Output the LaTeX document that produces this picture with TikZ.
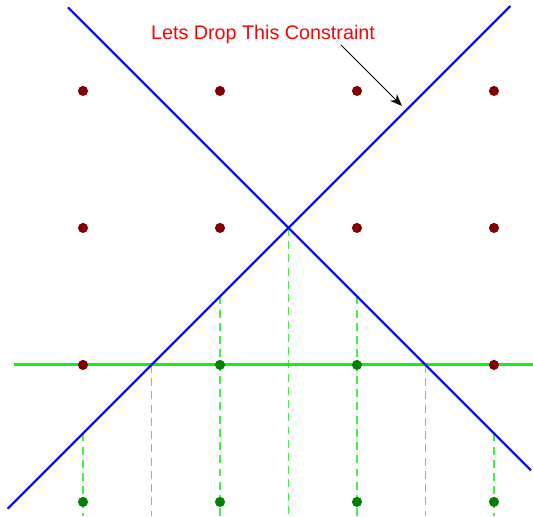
\documentclass[tikz,border=0pt]{standalone}
\usepackage{fontspec}
\setmainfont{Liberation Sans}
\usepackage{tikz}
\usetikzlibrary{arrows.meta, positioning}
\definecolor{dotred}{HTML}{800000}
\definecolor{dotgreen}{HTML}{008000}
\definecolor{lpgreen}{HTML}{11F011}
\tikzstyle{arrow} = [-{Stealth[length=5pt, width=4pt]}]

\begin{document}
\begin{tikzpicture}[x=2cm, y=2cm,
    pt/.style={circle, inner sep=0pt, minimum size=4.2pt},
    infeasible/.style={pt, fill=dotred},
    feasible/.style={pt, fill=dotgreen},
    constraint/.style={draw=blue, line width=0.85pt},
    bound/.style={draw=lpgreen, line width=1.2pt},
    proj/.style={draw=lpgreen!80, line width=0.45pt, dash pattern=on 3.3pt off 2.2pt}
]
\useasboundingbox (-0.606,-0.109) rectangle (3.285,3.664);

% end points of the lines
\coordinate (c1s) at (-0.55,-0.05);
\coordinate (c1e) at (3.12,3.62);
\coordinate (c2s) at (-0.11,3.61);
\coordinate (c2e) at (3.27,0.23);
\coordinate (gs) at (-0.504,1);
\coordinate (ge) at (3.285,1);

% projections down to the bottom
\foreach \x/\y [count=\k] in {0/0.5, 0.5/1, 1/1.5, 1.5/2, 2/1.5, 2.5/1, 3/0.5} {
    \coordinate (top\k) at (\x,\y);
    \coordinate (bot\k) at (\x,-0.1);
    \draw[proj] (top\k) -- (bot\k);
}

\draw[bound] (gs) -- (ge);
\draw[constraint] (c1s) -- (c1e);
\draw[constraint] (c2s) -- (c2e);

% lattice points
\foreach \i in {0,...,3} {
    \node[infeasible] (p\i3) at (\i,3) {};
    \node[infeasible] (p\i2) at (\i,2) {};
    \node[feasible] (p\i0) at (\i,0) {};
}
\node[infeasible] (p01) at (0,1) {};
\node[feasible] (p11) at (1,1) {};
\node[feasible] (p21) at (2,1) {};
\node[infeasible] (p31) at (3,1) {};

\node[text=red, font=\fontsize{8.2}{10}\selectfont] (note) at (1.314,3.416) {Lets Drop This Constraint};
\coordinate (tail) at (1.883,3.336);
\coordinate (tip) at (2.328,2.891);
\draw[arrow, line width=0.4pt] (tail) -- (tip);
\end{tikzpicture}
\end{document}
